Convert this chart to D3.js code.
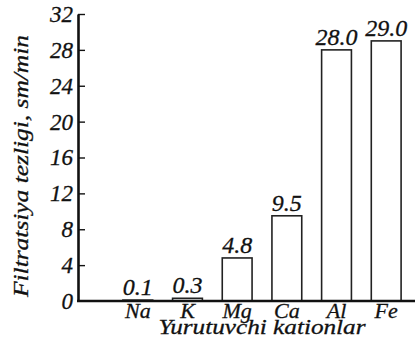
<!DOCTYPE html>
<html>
<head>
<meta charset="utf-8">
<script src="https://cdn.jsdelivr.net/npm/d3@7"></script>
<style>
  body { margin: 0; background: #fff; }
</style>
</head>
<body>
<script>
var cations = ["Na", "K", "Mg", "Ca", "Al", "Fe"];
var rates = [0.1, 0.3, 4.8, 9.5, 28.0, 29.0];
var yTicks = [0, 4, 8, 12, 16, 20, 24, 28, 32];

var w = 415;
var h = 340;
var serif = "'Liberation Serif', 'Times New Roman', serif";

// scanned-book look: serif italic, slightly heavy
var italic = function(sel, size) {
  sel.style("font-family", serif)
    .style("font-style", "italic")
    .style("font-size", size + "px")
    .style("fill", "#111")
    .style("stroke", "#111")
    .style("stroke-width", "0.3px");
};

var svg = d3.select("body")
  .append("svg")
  .attr("width", w)
  .attr("height", h);

var y = d3.scaleLinear()
  .domain([0, 32])
  .range([301, 14]);

var x = d3.scaleBand()
  .domain(cations)
  .range([108, 416])
  .paddingInner(0.4)
  .paddingOuter(0.3);

// bars
svg.selectAll("rect.bar")
  .data(rates)
  .enter()
  .append("rect")
  .attr("class", "bar")
  .attr("x", function(d, i) { return x(cations[i]); })
  .attr("y", function(d) { return y(d); })
  .attr("width", x.bandwidth())
  .attr("height", function(d) { return y(0) - y(d); })
  .attr("fill", "#fff")
  .attr("stroke", "#222")
  .attr("stroke-width", 1.6);

// value labels
svg.selectAll("text.val")
  .data(rates)
  .enter()
  .append("text")
  .attr("class", "val")
  .attr("x", function(d, i) { return x(cations[i]) + x.bandwidth() / 2; })
  .attr("y", function(d) { return y(d) - 5; })
  .attr("text-anchor", "middle")
  .text(function(d) { return d.toFixed(1); })
  .call(italic, 24);

// y axis
var yAxis = d3.axisLeft(y)
  .tickValues(yTicks)
  .tickSizeInner(-7)
  .tickSizeOuter(0)
  .tickPadding(5);

var gy = svg.append("g")
  .attr("transform", "translate(78,0)")
  .call(yAxis);
gy.select(".domain").attr("stroke", "#111").attr("stroke-width", 2.6);
gy.selectAll(".tick line").attr("stroke", "#111").attr("stroke-width", 1.4);
gy.selectAll(".tick line").filter(function(d) { return d === 0; }).remove();
gy.selectAll(".tick text").call(italic, 23);

// x axis
var xAxis = d3.axisBottom(x)
  .tickSize(0)
  .tickPadding(1);

var gx = svg.append("g")
  .attr("transform", "translate(0," + y(0) + ")")
  .call(xAxis);
gx.select(".domain")
  .attr("d", "M77,0H415")
  .attr("stroke", "#111")
  .attr("stroke-width", 2.6);
gx.selectAll(".tick text").call(italic, 22);

// axis titles
svg.append("text")
  .attr("transform", "translate(28,166) rotate(-90)")
  .attr("text-anchor", "middle")
  .attr("textLength", 262)
  .attr("lengthAdjust", "spacingAndGlyphs")
  .text("Filtratsiya tezligi, sm/min")
  .call(italic, 22);

svg.append("text")
  .attr("x", 262)
  .attr("y", 334)
  .attr("text-anchor", "middle")
  .attr("textLength", 207)
  .attr("lengthAdjust", "spacingAndGlyphs")
  .text("Yurutuvchi kationlar")
  .call(italic, 21);
</script>
</body>
</html>
